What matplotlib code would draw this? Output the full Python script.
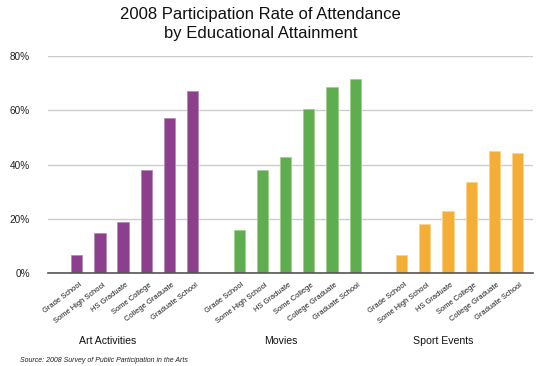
import numpy as np
import matplotlib.pyplot as plt
from matplotlib.ticker import PercentFormatter

plt.rcParams['font.family'] = ['Liberation Sans', 'DejaVu Sans']

# data (percent)
levels = ['Grade School', 'Some High School', 'HS Graduate',
          'Some College', 'College Graduate', 'Graduate School']
groups = ['Art Activities', 'Movies', 'Sport Events']
art = [6.5, 14.7, 18.9, 37.9, 57.3, 67.2]
movies = [15.9, 37.9, 42.6, 60.7, 68.8, 71.5]
sport = [6.5, 17.9, 22.7, 33.7, 45.0, 44.1]
colors = ['#8b3f8d', '#5ead4f', '#f5ae35']
edges = ['#b88ab9', '#9fd08f', '#fbd38a']

fig = plt.figure(figsize=(5.4, 3.66), dpi=100)
ax = fig.add_axes([0.0889, 0.255, 0.898, 0.591])

'''
one empty slot between the groups
'''
for g, vals in enumerate([art, movies, sport]):
    xs = np.arange(len(vals)) + g * (len(levels) + 1)
    ax.bar(xs, vals, width=0.49, color=colors[g], edgecolor=edges[g],
           linewidth=0.6, zorder=3)
    for x, lab in zip(xs, levels):
        ax.text(x + 0.1, -3.2, lab, rotation=37, rotation_mode='anchor',
                ha='right', va='top', fontsize=5.4, color='#1a1a1a')

# group names sit a bit left of the group centres
group_x = [1.35, 8.8, 15.8]
for x, name in zip(group_x, groups):
    ax.text(x, -25.2, name, ha='center', va='center', fontsize=7.6,
            color='#111111')

ax.set_xlim(-1.24, 19.66)
ax.set_ylim(0, 80)
ax.set_yticks([0, 20, 40, 60, 80])
ax.yaxis.set_major_formatter(PercentFormatter(decimals=0))
ax.set_xticks([])
ax.tick_params(axis='y', length=0, pad=13, labelsize=7.2, labelcolor='#222222')
ax.grid(axis='y', color='#cccccc', linewidth=1.0, zorder=0)
for s in ['top', 'right', 'left']:
    ax.spines[s].set_visible(False)
ax.spines['bottom'].set_color('#555555')
ax.spines['bottom'].set_linewidth(1.2)
ax.spines['bottom'].set_zorder(4)

fig.text(0.483, 0.934, '2008 Participation Rate of Attendance\nby Educational Attainment',
         ha='center', va='center', fontsize=12, linespacing=1.3, color='#111111')
fig.text(0.037, 0.014, 'Source: 2008 Survey of Public Participation in the Arts',
         ha='left', va='center', fontsize=5, style='italic', color='#222222')

fig.savefig('out.png', dpi=100)
